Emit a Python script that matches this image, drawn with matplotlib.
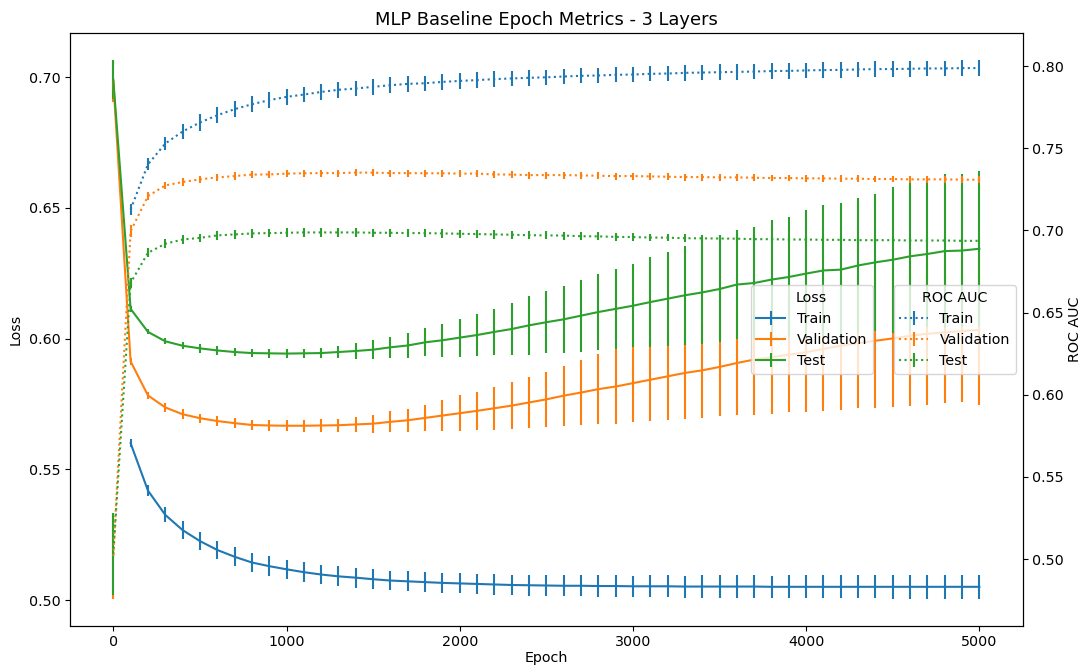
import numpy as np
import matplotlib
matplotlib.use('Agg')
import matplotlib.pyplot as plt

nan = np.nan

# Epochs at which metrics were recorded
epochs = list(range(0, 5001, 100))

# Loss (mean / std over runs)
train_loss = [nan, 0.5600, 0.5419, 0.5326, 0.5268, 0.5226, 0.5192, 0.5166, 0.5144, 0.5130, 0.5118,
              0.5107, 0.5098, 0.5091, 0.5086, 0.5080, 0.5075, 0.5072, 0.5069, 0.5066, 0.5064,
              0.5062, 0.5060, 0.5058, 0.5057, 0.5056, 0.5055, 0.5055, 0.5054, 0.5054, 0.5053,
              0.5053, 0.5053, 0.5052, 0.5052, 0.5052, 0.5052, 0.5052, 0.5051, 0.5051, 0.5051,
              0.5051, 0.5051, 0.5051, 0.5051, 0.5051, 0.5051, 0.5051, 0.5051, 0.5051, 0.5051]
train_loss_err = [nan, 0.0015, 0.0022, 0.0029, 0.0034, 0.0035, 0.0036, 0.0037, 0.0036, 0.0037, 0.0037,
                  0.0037, 0.0037, 0.0038, 0.0038, 0.0038, 0.0038, 0.0038, 0.0038, 0.0038, 0.0038,
                  0.0039, 0.0039, 0.0039, 0.0040, 0.0040, 0.0040, 0.0041, 0.0041, 0.0041, 0.0041,
                  0.0042, 0.0042, 0.0042, 0.0043, 0.0043, 0.0043, 0.0043, 0.0043, 0.0044, 0.0044,
                  0.0044, 0.0044, 0.0044, 0.0044, 0.0045, 0.0045, 0.0045, 0.0045, 0.0045, 0.0045]

val_loss = [0.6985, 0.5913, 0.5783, 0.5737, 0.5711, 0.5696, 0.5685, 0.5677, 0.5670, 0.5668, 0.5667,
            0.5667, 0.5668, 0.5669, 0.5672, 0.5675, 0.5682, 0.5688, 0.5697, 0.5706, 0.5715,
            0.5724, 0.5734, 0.5744, 0.5756, 0.5768, 0.5782, 0.5794, 0.5807, 0.5817, 0.5830,
            0.5843, 0.5856, 0.5869, 0.5879, 0.5892, 0.5907, 0.5920, 0.5929, 0.5939, 0.5948,
            0.5961, 0.5973, 0.5983, 0.5992, 0.6001, 0.6011, 0.6019, 0.6024, 0.6029, 0.6034]
val_loss_err = [0.0080, 0.0013, 0.0013, 0.0017, 0.0019, 0.0017, 0.0018, 0.0019, 0.0020, 0.0020, 0.0021,
                0.0022, 0.0023, 0.0025, 0.0028, 0.0034, 0.0040, 0.0044, 0.0050, 0.0059, 0.0068,
                0.0073, 0.0082, 0.0089, 0.0099, 0.0106, 0.0115, 0.0126, 0.0134, 0.0142, 0.0148,
                0.0158, 0.0166, 0.0176, 0.0181, 0.0189, 0.0198, 0.0211, 0.0218, 0.0221, 0.0227,
                0.0236, 0.0245, 0.0250, 0.0256, 0.0262, 0.0269, 0.0271, 0.0271, 0.0273, 0.0286]

test_loss = [0.6990, 0.6114, 0.6026, 0.5990, 0.5973, 0.5963, 0.5955, 0.5949, 0.5945, 0.5944, 0.5943,
             0.5944, 0.5945, 0.5949, 0.5953, 0.5958, 0.5967, 0.5974, 0.5986, 0.5994, 0.6004,
             0.6014, 0.6026, 0.6037, 0.6051, 0.6063, 0.6074, 0.6088, 0.6102, 0.6114, 0.6126,
             0.6140, 0.6153, 0.6166, 0.6177, 0.6190, 0.6207, 0.6213, 0.6226, 0.6236, 0.6249,
             0.6261, 0.6264, 0.6280, 0.6292, 0.6302, 0.6315, 0.6324, 0.6335, 0.6337, 0.6344]
test_loss_err = [0.0075, 0.0012, 0.0010, 0.0011, 0.0014, 0.0016, 0.0016, 0.0016, 0.0016, 0.0016, 0.0016,
                 0.0017, 0.0019, 0.0022, 0.0032, 0.0036, 0.0041, 0.0049, 0.0054, 0.0064, 0.0073,
                 0.0079, 0.0089, 0.0099, 0.0112, 0.0118, 0.0128, 0.0138, 0.0144, 0.0154, 0.0158,
                 0.0171, 0.0180, 0.0190, 0.0199, 0.0204, 0.0210, 0.0216, 0.0229, 0.0229, 0.0245,
                 0.0250, 0.0256, 0.0258, 0.0263, 0.0279, 0.0287, 0.0279, 0.0294, 0.0294, 0.0298]

# ROC AUC (mean / std over runs)
train_auc = [nan, 0.7128, 0.7402, 0.7529, 0.7602, 0.7657, 0.7701, 0.7738, 0.7768, 0.7793, 0.7813,
             0.7827, 0.7843, 0.7856, 0.7864, 0.7874, 0.7884, 0.7892, 0.7896, 0.7904, 0.7910,
             0.7915, 0.7921, 0.7925, 0.7929, 0.7932, 0.7937, 0.7941, 0.7943, 0.7947, 0.7949,
             0.7953, 0.7955, 0.7959, 0.7961, 0.7963, 0.7965, 0.7967, 0.7970, 0.7971, 0.7974,
             0.7976, 0.7977, 0.7980, 0.7982, 0.7982, 0.7984, 0.7986, 0.7986, 0.7988, 0.7988]
train_auc_err = [nan, 0.0036, 0.0037, 0.0040, 0.0047, 0.0051, 0.0050, 0.0049, 0.0049, 0.0048, 0.0048,
                 0.0048, 0.0048, 0.0048, 0.0047, 0.0047, 0.0047, 0.0047, 0.0047, 0.0048, 0.0048,
                 0.0048, 0.0048, 0.0048, 0.0047, 0.0047, 0.0047, 0.0046, 0.0046, 0.0046, 0.0046,
                 0.0046, 0.0046, 0.0047, 0.0047, 0.0047, 0.0047, 0.0047, 0.0047, 0.0047, 0.0047,
                 0.0047, 0.0047, 0.0047, 0.0047, 0.0048, 0.0048, 0.0048, 0.0048, 0.0048, 0.0048]

val_auc = [0.5020, 0.6996, 0.7209, 0.7274, 0.7295, 0.7311, 0.7323, 0.7331, 0.7340, 0.7341, 0.7346,
           0.7348, 0.7349, 0.7349, 0.7352, 0.7352, 0.7349, 0.7349, 0.7348, 0.7348, 0.7346,
           0.7346, 0.7341, 0.7340, 0.7337, 0.7337, 0.7337, 0.7335, 0.7333, 0.7331, 0.7331,
           0.7329, 0.7327, 0.7325, 0.7325, 0.7323, 0.7323, 0.7321, 0.7319, 0.7319, 0.7317,
           0.7317, 0.7315, 0.7315, 0.7313, 0.7313, 0.7311, 0.7311, 0.7311, 0.7309, 0.7309]
val_auc_err = [0.0260, 0.0036, 0.0023, 0.0023, 0.0022, 0.0022, 0.0022, 0.0022, 0.0022, 0.0022, 0.0022,
               0.0022, 0.0022, 0.0022, 0.0022, 0.0022, 0.0022, 0.0021, 0.0021, 0.0021, 0.0021,
               0.0021, 0.0021, 0.0021, 0.0021, 0.0021, 0.0021, 0.0021, 0.0021, 0.0021, 0.0021,
               0.0021, 0.0021, 0.0021, 0.0021, 0.0021, 0.0021, 0.0021, 0.0021, 0.0021, 0.0021,
               0.0020, 0.0020, 0.0020, 0.0020, 0.0020, 0.0020, 0.0020, 0.0020, 0.0020, 0.0020]

test_auc = [0.5030, 0.6681, 0.6864, 0.6919, 0.6945, 0.6955, 0.6970, 0.6976, 0.6982, 0.6984, 0.6986,
            0.6988, 0.6988, 0.6988, 0.6988, 0.6986, 0.6986, 0.6984, 0.6984, 0.6982, 0.6980,
            0.6978, 0.6976, 0.6974, 0.6971, 0.6970, 0.6969, 0.6965, 0.6964, 0.6961, 0.6960,
            0.6957, 0.6956, 0.6953, 0.6952, 0.6951, 0.6950, 0.6947, 0.6947, 0.6945, 0.6945,
            0.6943, 0.6943, 0.6941, 0.6941, 0.6941, 0.6939, 0.6939, 0.6939, 0.6937, 0.6937]
test_auc_err = [0.0250, 0.0030, 0.0027, 0.0027, 0.0026, 0.0026, 0.0026, 0.0026, 0.0026, 0.0026, 0.0026,
                0.0026, 0.0026, 0.0025, 0.0025, 0.0025, 0.0025, 0.0025, 0.0025, 0.0025, 0.0025,
                0.0025, 0.0025, 0.0024, 0.0024, 0.0024, 0.0024, 0.0024, 0.0024, 0.0024, 0.0024,
                0.0023, 0.0023, 0.0023, 0.0023, 0.0023, 0.0023, 0.0023, 0.0023, 0.0023, 0.0023,
                0.0022, 0.0022, 0.0022, 0.0022, 0.0022, 0.0022, 0.0022, 0.0022, 0.0022, 0.0022]

plt.rcParams['font.size'] = 10.3

fig, ax1 = plt.subplots(figsize=(10.81, 6.66), dpi=100)
ax2 = ax1.twinx()

# Loss on the left axis (solid)
ax1.errorbar(epochs, train_loss, yerr=train_loss_err, color='C0', label='Train')
ax1.errorbar(epochs, val_loss, yerr=val_loss_err, color='C1', label='Validation')
ax1.errorbar(epochs, test_loss, yerr=test_loss_err, color='C2', label='Test')

# ROC AUC on the right axis (dotted)
ax2.errorbar(epochs, train_auc, yerr=train_auc_err, color='C0', linestyle=':', label='Train')
ax2.errorbar(epochs, val_auc, yerr=val_auc_err, color='C1', linestyle=':', label='Validation')
ax2.errorbar(epochs, test_auc, yerr=test_auc_err, color='C2', linestyle=':', label='Test')

ax1.set_xlabel('Epoch', labelpad=1.5)
ax1.set_ylabel('Loss')
ax2.set_ylabel('ROC AUC', labelpad=2.5)
ax1.set_title('MLP Baseline Epoch Metrics - 3 Layers', fontsize=12.9)

ax1.legend(title='Loss', loc='center right', bbox_to_anchor=(0.85, 0.5))
ax2.legend(title='ROC AUC', loc='center right')

fig.subplots_adjust(left=70 / 1081, right=1022.7 / 1081, top=1 - 33.3 / 666, bottom=1 - 625.5 / 666)
fig.savefig('out.png', dpi=100)
